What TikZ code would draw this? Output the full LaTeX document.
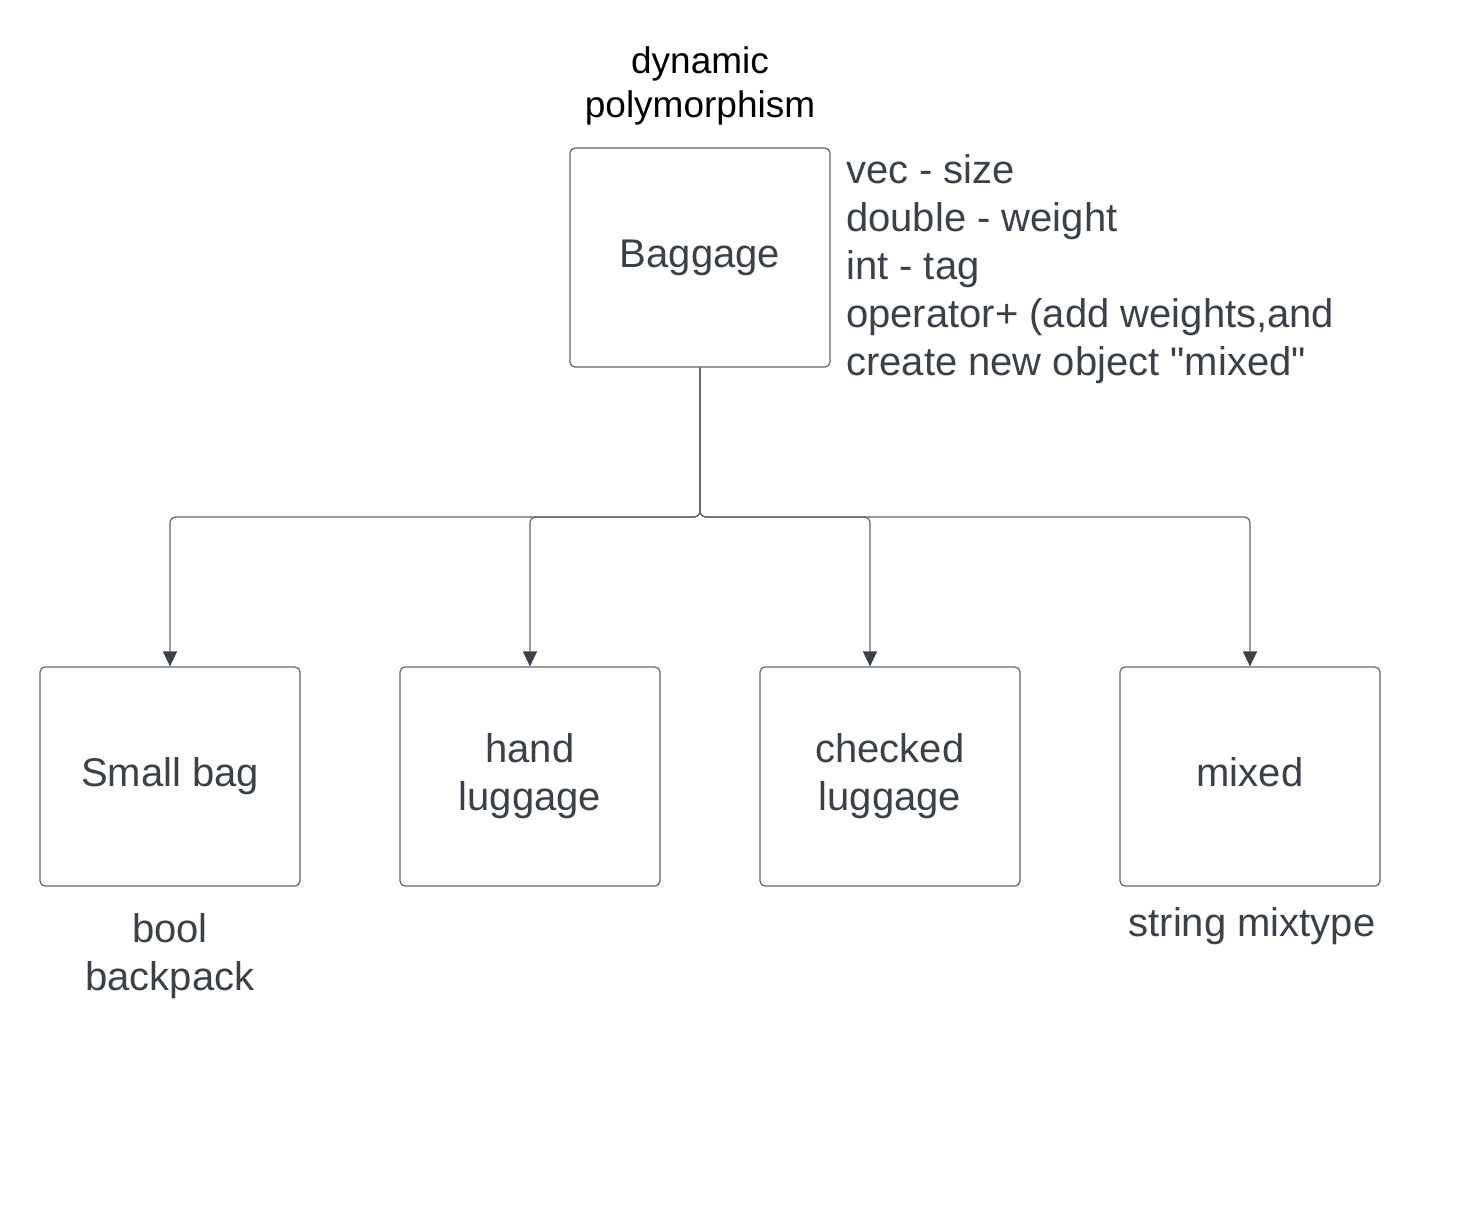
\documentclass[tikz,border=0pt]{standalone}
\usepackage{fontspec}
\setmainfont{Liberation Sans}[Ligatures=TeXOff]
\usetikzlibrary{arrows.meta}
\definecolor{txt}{HTML}{3A414A}
\definecolor{ln}{HTML}{5E6670}
\tikzset{
  box/.style={draw=ln, line width=1.2pt, rounded corners=5pt, minimum width=260pt, minimum height=219pt, inner sep=0pt, align=center, text=txt, font=\fontsize{40}{48}\selectfont},
  lbl/.style={inner sep=0pt, align=center, text=txt, font=\fontsize{40}{48}\selectfont},
  conn/.style={draw=ln, line width=1.2pt, rounded corners=6pt, -{Triangle[width=14pt,length=15pt,color=txt]}}
}
\begin{document}
\begin{tikzpicture}[x=1pt,y=-1pt]
\useasboundingbox[fill=white] (0,0) rectangle (1460,1207);
\node[lbl, text=black, font=\fontsize{37}{44}\selectfont] (title) at (700,86) {dynamic\\polymorphism};
\node[box] (bag) at (700,257.5) {Baggage};
\node[lbl, align=left, anchor=west] (attrs) at (846,269) {vec - size\\double - weight\\int - tag\\operator+ (add weights,and\\create new object "mixed"};
\node[box] (small) at (170,776.5) {Small bag};
\node[box] (hand) at (530,776.5) {hand\\luggage};
\node[box] (checked) at (890,776.5) {checked\\luggage};
\node[box] (mixed) at (1250,776.5) {mixed\vphantom{g}};
\node[lbl] (bool) at (170,956) {bool\\backpack};
\node[lbl] (str) at (1252,926) {string mixtype};
\coordinate (bus) at (700,517);
\draw[conn] (bag.south) -- (bus) -| (small.north);
\draw[conn] (bag.south) -- (bus) -| (hand.north);
\draw[conn] (bag.south) -- (bus) -| ([xshift=-20pt]checked.north);
\draw[conn] (bag.south) -- (bus) -| (mixed.north);
\end{tikzpicture}
\end{document}
